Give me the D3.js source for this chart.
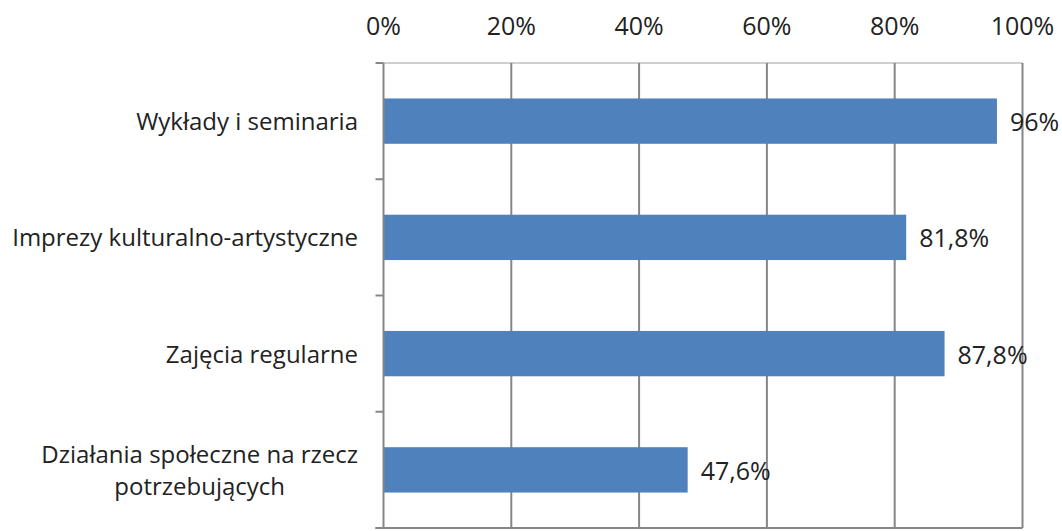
<!DOCTYPE html>
<html>
<head>
<meta charset="utf-8">
<script src="https://cdn.jsdelivr.net/npm/d3@7"></script>
<style>
  body { margin: 0; background: #fff; }
  svg text { font-family: "Open Sans", Lato, sans-serif; fill: #222; }
</style>
</head>
<body>
<div id="chart"></div>
<script>
var WIDTH = 1062
var HEIGHT = 531

// data
var categories = [
    ["Wykłady i seminaria"],
    ["Imprezy kulturalno-artystyczne"],
    ["Zajęcia regularne"],
    ["Działania społeczne na rzecz", "potrzebujących"]
];
var values = [96, 81.8, 87.8, 47.6];
var valueLabels = ["96%", "81,8%", "87,8%", "47,6%"];
var tickValues = [0, 20, 40, 60, 80, 100];

var margin = { top: 63, left: 383.5, right: 39.5, bottom: 3 };

var svg = d3.select('#chart').append('svg')
    .attr('width', WIDTH)
    .attr('height', HEIGHT);

let xScale = d3.scaleLinear()
    .domain([0, 100])
    .range([margin.left, WIDTH - margin.right]);

let yScale = d3.scaleBand()
    .domain(d3.range(categories.length))
    .range([margin.top, HEIGHT - margin.bottom])
    .paddingInner(0.61)
    .paddingOuter(0.305);

var plotTop = margin.top, plotBottom = HEIGHT - margin.bottom;

// top border of plot area
svg.append('line')
    .attr('x1', xScale(0)).attr('x2', xScale(100))
    .attr('y1', plotTop).attr('y2', plotTop)
    .attr('stroke', '#bfbfbf').attr('stroke-width', 1.5);

// vertical gridlines
svg.selectAll('.grid')
    .data(tickValues.slice(1))
    .enter()
    .append('line')
    .attr('class', 'grid')
    .attr('x1', d => xScale(d)).attr('x2', d => xScale(d))
    .attr('y1', plotTop).attr('y2', plotBottom)
    .attr('stroke', '#868686').attr('stroke-width', 2);

// top axis labels
svg.selectAll('.tickLabel')
    .data(tickValues)
    .enter()
    .append('text')
    .attr('class', 'tickLabel')
    .attr('x', d => xScale(d))
    .attr('y', 35)
    .attr('text-anchor', 'middle')
    .style('font-size', '25px')
    .text(d => d + '%');

// bars
svg.selectAll('.bar')
    .data(values)
    .enter()
    .append('rect')
    .attr('class', 'bar')
    .attr('x', xScale(0))
    .attr('y', (d, i) => yScale(i))
    .attr('width', d => xScale(d) - xScale(0))
    .attr('height', yScale.bandwidth())
    .attr('fill', '#4F81BD');

// value labels
svg.selectAll('.valLabel')
    .data(values)
    .enter()
    .append('text')
    .attr('class', 'valLabel')
    .attr('x', d => xScale(d) + 13)
    .attr('y', (d, i) => yScale(i) + yScale.bandwidth() / 2 + 10)
    .style('font-size', '25px')
    .text((d, i) => valueLabels[i]);

// left axis with tick marks at category boundaries
var step = (plotBottom - plotTop) / categories.length;
svg.append('line')
    .attr('x1', xScale(0)).attr('x2', xScale(0))
    .attr('y1', plotTop).attr('y2', plotBottom)
    .attr('stroke', '#868686').attr('stroke-width', 2);
svg.selectAll('.ytick')
    .data(d3.range(categories.length + 1))
    .enter()
    .append('line')
    .attr('class', 'ytick')
    .attr('x1', xScale(0) - 8).attr('x2', xScale(0))
    .attr('y1', d => plotTop + d * step).attr('y2', d => plotTop + d * step)
    .attr('stroke', '#868686').attr('stroke-width', 2);

// bottom edge
svg.append('line')
    .attr('x1', xScale(0) - 8).attr('x2', xScale(100))
    .attr('y1', plotBottom).attr('y2', plotBottom)
    .attr('stroke', '#868686').attr('stroke-width', 2);

// category labels, multi-line ones centred within their block
categories.forEach((lines, i) => {
    var cy = yScale(i) + yScale.bandwidth() / 2;
    var lh = 32;
    var g = svg.append('g');
    var texts = lines.map((t, j) => g.append('text')
        .attr('y', cy + 9 + (j - (lines.length - 1) / 2) * lh)
        .style('font-size', '24px')
        .text(t));
    var widths = texts.map(t => t.node().getComputedTextLength());
    var maxW = d3.max(widths);
    var right = 358;
    texts.forEach((t, j) => {
        t.attr('x', right - maxW / 2).attr('text-anchor', 'middle');
    });
});
</script>
</body>
</html>
